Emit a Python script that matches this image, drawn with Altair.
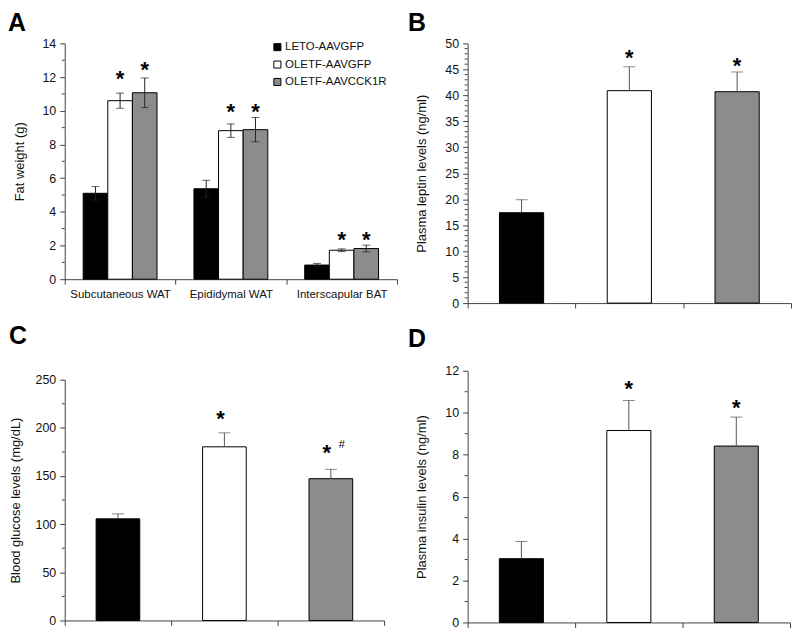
import altair as alt
import pandas as pd

FONT = "Liberation Sans"
AXIS_COL = "#444444"

groups = ["LETO-AAVGFP", "OLETF-AAVGFP", "OLETF-AAVCCK1R"]
bar_colors = ["#000000", "#ffffff", "#8c8c8c"]

# Panel A: fat weight (g)
tissues = ["Subcutaneous WAT", "Epididymal WAT", "Interscapular BAT"]
fat_leto = [5.1, 5.37, 0.84]
fat_gfp = [10.6, 8.82, 1.72]
fat_cck = [11.07, 8.88, 1.82]
fat_leto_err = [0.4, 0.5, 0.1]
fat_gfp_err = [0.45, 0.4, 0.08]
fat_cck_err = [0.88, 0.72, 0.2]
fat_gfp_star = [12.2, 10.25, 2.65]
fat_cck_star = [12.7, 10.25, 2.65]

# Panel B: plasma leptin (ng/ml)
leptin = [17.4, 40.9, 40.7]
leptin_err = [2.5, 4.6, 3.8]
leptin_star = [None, 48.2, 46.6]

# Panel C: blood glucose (mg/dL)
glucose = [105.5, 180.3, 147.2]
glucose_err = [5.2, 14.5, 9.7]
glucose_star = [None, 213.8, 178.6]
glucose_hash = [None, None, 181.7]

# Panel D: plasma insulin (ng/ml)
insulin = [3.04, 9.15, 8.41]
insulin_err = [0.82, 1.43, 1.38]
insulin_star = [None, 11.37, 10.47]

color_scale = alt.Scale(domain=groups, range=bar_colors)


def tick_values(step, maxv):
    n = int(round(maxv / step))
    return [round(i * step, 6) for i in range(n + 1)]


def y_axis(title, major, maxv, tpad=16):
    return alt.Axis(
        title=title,
        values=tick_values(major, maxv),
        tickSize=5,
        labelPadding=4,
        titlePadding=tpad,
        labelOverlap=False,
    )


def minor_ticks(minor, major, maxv, yscale, yax):
    vals = [v for v in tick_values(minor, maxv) if abs(v / major - round(v / major)) > 1e-9]
    return alt.Chart(pd.DataFrame({"v": vals})).mark_rule(
        color=AXIS_COL, strokeWidth=1
    ).encode(y=alt.Y("v:Q", scale=yscale, axis=yax), x=alt.value(-3), x2=alt.value(0))


def letter(txt, dx, dy):
    return alt.Chart(pd.DataFrame({"t": [txt]})).mark_text(
        font=FONT, fontSize=25, fontWeight="bold", align="left",
        baseline="alphabetic", color="black"
    ).encode(text="t:N", x=alt.value(dx), y=alt.value(dy))


# ---------- Panel A ----------
fat_df = pd.DataFrame({
    "tissue": tissues * 3,
    "group": [g for g in groups for _ in tissues],
    "value": fat_leto + fat_gfp + fat_cck,
    "err": fat_leto_err + fat_gfp_err + fat_cck_err,
    "star": [None] * 3 + fat_gfp_star + fat_cck_star,
})
fat_df["lo"] = fat_df["value"] - fat_df["err"]
fat_df["hi"] = fat_df["value"] + fat_df["err"]

xA = alt.X("tissue:N", sort=tissues,
           scale=alt.Scale(paddingInner=0, paddingOuter=0),
           axis=alt.Axis(title=None, labelAngle=0, tickBand="extent",
                         labelFontSize=11.5, labelPadding=4, tickSize=5))
xoA = alt.XOffset("group:N", sort=groups,
                  scale=alt.Scale(paddingInner=0, paddingOuter=0.75))
yscaleA = alt.Scale(domain=[0, 14], nice=False)
yaxA = y_axis("Fat weight (g)", 2, 14)

barsA = alt.Chart(fat_df).mark_bar(stroke="black", strokeWidth=1).encode(
    x=xA, xOffset=xoA,
    y=alt.Y("value:Q", scale=yscaleA, axis=yaxA),
    color=alt.Color("group:N", sort=groups, scale=color_scale,
                    legend=alt.Legend(orient="none", legendX=208, legendY=-2,
                                      title=None, symbolType="square",
                                      symbolSize=50, symbolStrokeColor="black",
                                      symbolStrokeWidth=1, labelFont=FONT,
                                      labelFontSize=11.5, labelColor="#111",
                                      rowPadding=4.5, labelOffset=2, padding=0)),
)
rulesA = alt.Chart(fat_df).mark_rule(color="#222", strokeWidth=1).encode(
    x=xA, xOffset=xoA, y=alt.Y("lo:Q", scale=yscaleA, axis=yaxA), y2="hi:Q")
capHiA = alt.Chart(fat_df).mark_tick(color="#222", size=8, thickness=1).encode(
    x=xA, xOffset=xoA, y=alt.Y("hi:Q", scale=yscaleA, axis=yaxA))
capLoA = alt.Chart(fat_df).mark_tick(color="#222", size=8, thickness=1).encode(
    x=xA, xOffset=xoA, y=alt.Y("lo:Q", scale=yscaleA, axis=yaxA))
starsA = alt.Chart(fat_df).transform_filter("datum.star != null").mark_text(
    text="*", font=FONT, fontSize=22, fontWeight="bold", baseline="alphabetic",
    dy=12, color="black").encode(
    x=xA, xOffset=xoA, y=alt.Y("star:Q", scale=yscaleA, axis=yaxA))

panelA = alt.layer(barsA, rulesA, capHiA, capLoA, starsA,
                   minor_ticks(1, 2, 14, yscaleA, yaxA), letter("A", -57, -12)).properties(
    width=334, height=237)


# ---------- single-series panels ----------
def single_panel(values, errs, stars, title, maxv, minor, major, w, h, lab, ldx, ldy,
                 hashes=None, tpad=16):
    df = pd.DataFrame({"group": groups, "value": values, "err": errs, "star": stars})
    df["hi"] = df["value"] + df["err"]
    x = alt.X("group:N", sort=groups,
              scale=alt.Scale(paddingInner=0, paddingOuter=0),
              axis=alt.Axis(title=None, labels=False, tickBand="extent", tickSize=5))
    ys = alt.Scale(domain=[0, maxv], nice=False)
    yax = y_axis(title, major, maxv, tpad)
    bars = alt.Chart(df).mark_bar(stroke="black", strokeWidth=1,
                                  width=alt.RelativeBandSize(0.41)).encode(
        x=x,
        y=alt.Y("value:Q", scale=ys, axis=yax),
        color=alt.Color("group:N", sort=groups, scale=color_scale, legend=None),
    )
    rule = alt.Chart(df).mark_rule(color="#555", strokeWidth=1).encode(
        x=x, y=alt.Y("value:Q", scale=ys, axis=yax), y2="hi:Q")
    cap = alt.Chart(df).mark_tick(color="#555", size=12, thickness=1).encode(
        x=x, y=alt.Y("hi:Q", scale=ys, axis=yax))
    if hashes is None:
        st = alt.Chart(df).transform_filter("datum.star != null").mark_text(
            text="*", font=FONT, fontSize=22, fontWeight="bold", baseline="alphabetic",
            dy=12, color="black").encode(x=x, y=alt.Y("star:Q", scale=ys, axis=yax))
        layers = [bars, rule, cap, st]
    else:
        df["hash"] = hashes
        st = alt.Chart(df).transform_filter("datum.star != null").mark_text(
            text="*", font=FONT, fontSize=22, fontWeight="bold", baseline="alphabetic",
            dy=12, dx=-4, color="black").encode(x=x, y=alt.Y("star:Q", scale=ys, axis=yax))
        hs = alt.Chart(df).transform_filter("datum.hash != null").mark_text(
            text="#", font=FONT, fontSize=11, baseline="middle",
            dx=11, color="black").encode(x=x, y=alt.Y("hash:Q", scale=ys, axis=yax))
        layers = [bars, rule, cap, st, hs]
    layers.append(minor_ticks(minor, major, maxv, ys, yax))
    layers.append(letter(lab, ldx, ldy))
    return alt.layer(*layers).properties(width=w, height=h)


panelB = single_panel(leptin, leptin_err, leptin_star, "Plasma leptin levels (ng/ml)",
                      50, 1, 5, 325, 261, "B", -60, -12)
panelC = single_panel(glucose, glucose_err, glucose_star, "Blood glucose levels (mg/dL)",
                      250, 25, 50, 321, 242, "C", -56, -36, hashes=glucose_hash, tpad=13)
panelD = single_panel(insulin, insulin_err, insulin_star, "Plasma insulin levels (ng/ml)",
                      12, 1, 2, 324, 253, "D", -60, -24)

chart = alt.hconcat(
    alt.vconcat(panelA, panelC, spacing=24),
    alt.vconcat(panelB, panelD, spacing=17),
    spacing=10,
).properties(padding={"left": 0, "top": 2, "right": 0, "bottom": 0}).configure_view(
    stroke=None
).configure_axis(
    grid=False, domainColor=AXIS_COL, tickColor=AXIS_COL, domainWidth=1,
    labelFont=FONT, titleFont=FONT, labelFontSize=12.5, titleFontSize=13,
    labelColor="#111", titleColor="#111", titleFontWeight="normal",
)

chart.save("out.html", embed_options={"renderer": "svg", "actions": False})
